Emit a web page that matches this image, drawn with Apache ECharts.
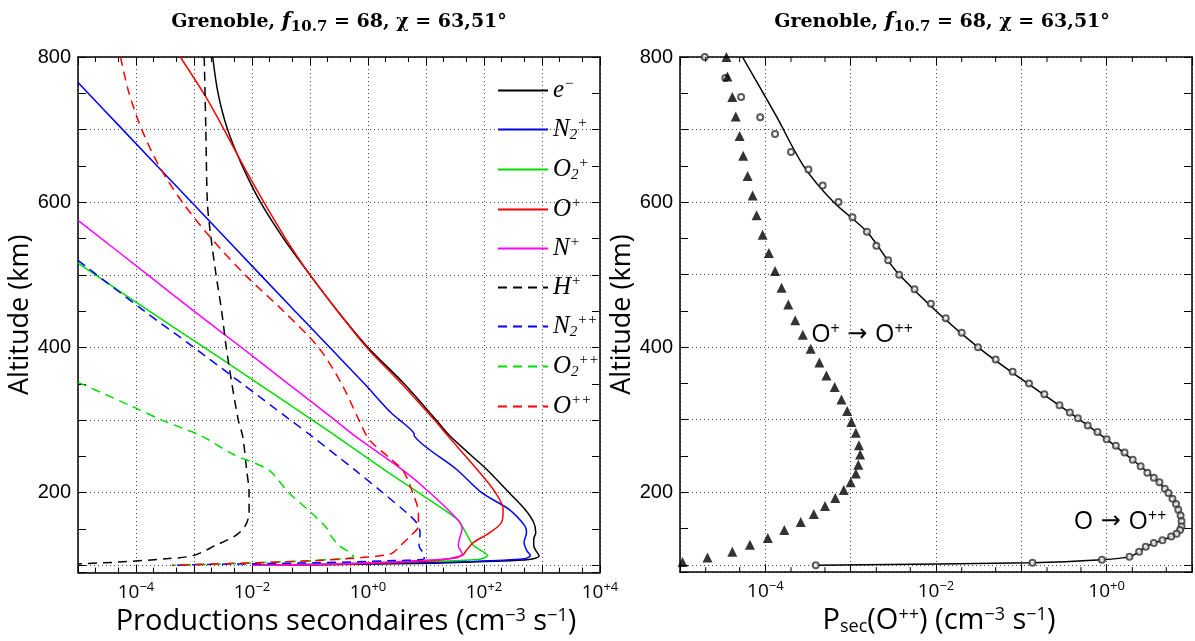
<!DOCTYPE html>
<html><head><meta charset="utf-8">
<script src="https://cdn.jsdelivr.net/npm/echarts@6/dist/echarts.min.js"></script>
<style>html,body{margin:0;padding:0;background:#fff}#c{width:1195px;height:641px}</style>
</head><body><div id="c"></div>
<script>
// ---------- DATA (x value, altitude km) ----------
const eMinus = [[2.1e-3,800],[2.6e-3,750],[3.8e-3,700],[6.8e-3,650],[1.4e-2,600],[3.5e-2,550],[0.10,500],[0.30,450],[1.0,400],[4.2,350],[15,300],[26,278],[57,253],[115,231],[272,200],[510,177],[720,159],[780,145],[720,136],[720,127],[790,120],[890,113],[600,108],[145,105.5],[14,103],[0.6,101.5],[1e-2,100]];
const n2Plus = [[1e-5,765],[5.9e-5,700],[9.1e-4,600],[1.4e-2,500],[0.22,400],[0.87,350],[2.5,310],[4.2,295],[6.2,282],[6.3,278],[35,231],[91,200],[270,177],[510,154],[540,145],[490,131.5],[550,120],[630,113.5],[490,109],[66,105.4],[0.6,102],[1e-2,100]];
const o2Plus = [[1e-5,516],[1.7e-4,450],[1.5e-3,400],[1.3e-2,350],[0.11,300],[0.28,278],[1.95,231],[7.4,200],[35,163],[45,150],[52,140.5],[66,127],[115,113.5],[78,108],[6.3,105],[0.28,102],[1e-2,100]];
const oPlus = [[5.8e-4,800],[1.6e-3,745],[3.3e-3,700],[7.1e-3,650],[1.6e-2,600],[3.8e-2,550],[0.10,500],[0.30,450],[0.95,400],[3.8,350],[14,300],[24,278],[78,231],[158,200],[214,177],[200,159],[126,145],[66,131.5],[49,120],[42,113.5],[14,106.6],[0.6,102],[1e-2,100]];
const nPlus = [[1e-5,575],[1.6e-4,500],[1e-3,450],[6.6e-3,400],[4.2e-2,350],[0.27,300],[0.6,278],[4,231],[11.7,200],[35,163],[42,150],[39,140.5],[36,127],[42,116],[33,110],[3.2,105],[0.1,101],[1e-2,100]];
const hPlus = [[1.5e-3,800],[1.6e-3,700],[1.7e-3,600],[1.9e-3,560],[2.4e-3,500],[3e-3,450],[3.6e-3,400],[4.5e-3,350],[5.8e-3,300],[6.9e-3,278],[8.1e-3,231],[8.9e-3,200],[8.9e-3,172],[7.6e-3,154],[5.1e-3,140.5],[2.3e-3,127],[9.8e-4,113.5],[3.3e-4,109],[5e-5,104.5],[1e-5,102]];
const n2PlusPlus = [[1e-5,520],[1.4e-4,450],[1e-3,400],[6.8e-3,350],[4.6e-2,300],[0.107,278],[0.6,231],[1.8,200],[4.7,172],[6.9,158.6],[7.9,145],[7.6,127],[9.3,113.5],[9.3,109],[2.8,106.5],[0.126,103.6],[1.26e-3,101],[4.2e-4,100]];
const o2PlusPlus = [[1e-5,352],[8e-5,320],[2.8e-4,300],[1.35e-3,278],[4.7e-3,253],[1.95e-2,231],[4.3e-2,200],[0.107,172],[0.2,150],[0.23,140.5],[0.32,127],[0.48,118],[0.56,112],[0.35,109],[2.6e-2,104.5],[1.26e-3,101],[4.2e-4,100]];
const oPlusPlus = [[5.4e-5,800],[7.6e-5,750],[1.26e-4,700],[2.5e-4,650],[6.3e-4,600],[2.0e-3,550],[7.6e-3,500],[3.5e-2,450],[0.14,400],[0.35,350],[0.7,300],[1.05,273],[2.3,248.6],[4,230.6],[5.9,200],[7.4,172],[7.4,154],[5.4,140.5],[3.6,127],[2.5,116],[0.83,111],[0.126,106.5],[2.5e-3,102],[4.2e-4,100]];

// right panel
const oToOppLine = [[5.4e-5,800],[1.35e-4,718],[2.8e-4,650],[6.3e-4,600],[1.55e-3,559],[3.7e-3,500],[3.1e-2,400],[0.46,302],[1.0,273],[2.0,245],[3.6,220],[5.3,199],[6.5,184],[7.3,168],[7.55,160],[7.55,153],[7.2,148],[6.6,143],[5.7,139],[4.5,134],[3.6,130],[2.9,125],[2.4,118],[1.85,111],[0.88,107],[0.135,103],[3.9e-4,99.6]];
const oToOppPoints = [[1.95e-5,800],[3.4e-5,771],[5.2e-5,745],[8.7e-5,717],[1.3e-4,694],[2e-4,669],[3.2e-4,645],[4.7e-4,623],[7.2e-4,600],[1.05e-3,579],[1.55e-3,559],[2.0e-3,540],[2.75e-3,520],[3.7e-3,500],[5.6e-3,480],[8.7e-3,460],[1.3e-2,440],[2.0e-2,420],[3.1e-2,400],[5e-2,383],[7.9e-2,366],[0.123,350],[0.186,335],[0.28,320],[0.37,310],[0.46,302],[0.6,292],[0.78,283],[1.0,273],[1.28,264],[1.62,255],[2.02,245],[2.5,236],[3.0,227],[3.57,220],[4.15,214],[4.8,205],[5.3,199],[5.9,191],[6.5,184],[6.9,176],[7.35,168],[7.55,160],[7.55,153],[7.25,148],[6.6,143],[5.7,139],[4.5,134],[3.57,130],[2.87,125],[2.4,118],[1.85,111],[0.88,107],[0.135,103],[3.9e-4,99.6]];
const opToOppPoints = [[3.5e-5,800],[3.6e-5,773],[4.1e-5,745],[4.5e-5,718],[5.0e-5,691],[5.5e-5,664],[6.2e-5,636],[7.1e-5,609],[7.9e-5,582],[9.3e-5,555],[1.1e-4,530],[1.3e-4,505],[1.55e-4,482],[1.86e-4,459],[2.24e-4,437],[2.75e-4,417],[3.4e-4,398],[4.3e-4,379],[5.2e-4,361],[6.5e-4,345],[7.8e-4,328],[9.1e-4,312],[1.02e-3,297],[1.15e-3,282],[1.25e-3,265],[1.29e-3,252],[1.23e-3,238],[1.15e-3,226],[1.0e-3,214],[8.3e-4,203],[6.6e-4,192],[5.0e-4,181],[3.7e-4,170],[2.6e-4,159],[1.67e-4,148],[1.07e-4,137],[6.6e-5,127.7],[4.1e-5,118],[2.1e-5,110],[1.07e-5,104]];

const leftNames = ['e-','N2+','O2+','O+','N+','H+','N2++','O2++','O++'];
const leftLabels = ['e{sp|−}','N{sb|2}{sp|+}','O{sb|2}{sp|+}','O{sp|+}','N{sp|+}','H{sp|+}','N{sb|2}{sp|++}','O{sb|2}{sp|++}','O{sp|++}'];
const leftColors = ['#000000','#0000ff','#00dd00','#ff0000','#ff00ff','#000000','#0000ff','#00dd00','#ff0000'];
const leftDashed = [false,false,false,false,false,true,true,true,true];
const leftData = [eMinus,n2Plus,o2Plus,oPlus,nPlus,hPlus,n2PlusPlus,o2PlusPlus,oPlusPlus];

const minorTickValsLeft = [2e-5,5e-5,2e-4,5e-4,2e-3,5e-3,2e-2,5e-2,0.2,0.5,2,5,20,50,200,500,2000,5000];
const minorTickValsRight = [2e-5,5e-5,2e-4,5e-4,2e-3,5e-3,2e-2,5e-2,0.2,0.5,2,5];

const yMin = 90, yMax = 800;

// ---------- CHART ----------
const chart = echarts.init(document.getElementById('c'));
const SANS = 'Open Sans';
function expLabel(v){
  const e = Math.round(Math.log10(v));
  if (e % 2 !== 0) return '';
  const s = e < 0 ? '−' + (-e) : '+' + e;
  return '10{s|' + s + '}';
}
const gridLine = {show:true, lineStyle:{color:'#444', type:[1,3], width:1}};
const axisLineS = {show:true, onZero:false, lineStyle:{color:'#000', width:1.5}};
function xBottom(gi, max){
  return {type:'log', gridIndex:gi, position:'bottom', min:1e-5, max:max, splitNumber: gi===0?9:6, logBase:10,
    axisLine:axisLineS, axisTick:{show:true, inside:true, length:8, lineStyle:{color:'#000'}},
    splitLine:gridLine,
    axisLabel:{formatter:expLabel, margin:8, color:'#000', fontFamily:SANS, fontSize:19,
      rich:{s:{fontSize:13, verticalAlign:'top', fontFamily:SANS, color:'#000', padding:[0,0,10,0]}}},
    nameLocation:'middle', nameGap:28};
}
function xTop(gi, max){
  return {type:'log', gridIndex:gi, position:'top', min:1e-5, max:max, splitNumber: gi===0?9:6, logBase:10,
    axisLine:axisLineS, axisTick:{show:true, inside:true, length:8, lineStyle:{color:'#000'}},
    splitLine:{show:false}, axisLabel:{show:false}};
}
function yLeft(gi, gap){
  return {type:'value', gridIndex:gi, position:'left', min:yMin, max:yMax, splitNumber:7,
    axisLine:axisLineS, axisTick:{show:true, inside:true, length:8, lineStyle:{color:'#000'}},
    minorTick:{show:true, splitNumber:2, length:8, lineStyle:{color:'#000'}},
    splitLine:gridLine,
    axisLabel:{formatter:v => (v % 200 === 0 ? String(v) : ''), color:'#000', fontFamily:'Liberation Sans', fontSize:20, margin:7},
    name:'Altitude (km)', nameLocation:'middle', nameRotate:90, nameGap:gap,
    nameTextStyle:{fontFamily:SANS, fontSize:27, color:'#000'}};
}
function yRight(gi){
  return {type:'value', gridIndex:gi, position:'right', min:yMin, max:yMax, splitNumber:7,
    axisLine:axisLineS, axisTick:{show:true, inside:true, length:8, lineStyle:{color:'#000'}},
    minorTick:{show:true, splitNumber:2, length:8, lineStyle:{color:'#000'}},
    splitLine:{show:false}, axisLabel:{show:false}};
}

const xa0 = xBottom(0, 1e4);
xa0.name = 'Productions secondaires (cm{s|−3} s{s|−1})';
xa0.nameTextStyle = {fontFamily:SANS, fontSize:29, color:'#000', padding:[0,0,0,14],
  rich:{s:{fontSize:18, verticalAlign:'top', fontFamily:SANS, color:'#000', padding:[0,0,12,0]}}};
const xa2 = xBottom(1, 10);
xa2.name = 'P{b|sec}(O{s|++}) (cm{s|−3} s{s|−1})';
xa2.nameTextStyle = {fontFamily:SANS, fontSize:29, color:'#000', padding:[0,0,0,6],
  rich:{s:{fontSize:18, verticalAlign:'top', fontFamily:SANS, color:'#000', padding:[0,0,12,0]},
        b:{fontSize:18, verticalAlign:'bottom', fontFamily:SANS, color:'#000', padding:[12,0,0,0]}}};

const series = [];
leftNames.forEach((n, i) => {
  series.push({name:n, type:'line', xAxisIndex:0, yAxisIndex:0, data:leftData[i], symbol:'none',
    smooth:0.3, clip:true,
    lineStyle:{color:leftColors[i], width:1.5, type: leftDashed[i] ? [9,6] : 'solid'},
    itemStyle:{color:leftColors[i]}, z:3});
});
function tickSeries(vals, xi, yi){
  return {type:'custom', xAxisIndex:xi, yAxisIndex:yi, silent:true, z:5,
    data: vals.map(v => [v, yMin]),
    renderItem:(p, api) => {
      const v = api.value(0);
      const b = api.coord([v, yMin]), t = api.coord([v, yMax]);
      return {type:'group', children:[
        {type:'line', shape:{x1:b[0], y1:b[1], x2:b[0], y2:b[1]-5}, style:{stroke:'#000', lineWidth:1}},
        {type:'line', shape:{x1:t[0], y1:t[1], x2:t[0], y2:t[1]+5}, style:{stroke:'#000', lineWidth:1}}
      ]};
    }};
}
series.push(tickSeries(minorTickValsLeft, 0, 0));
series.push(tickSeries(minorTickValsRight, 2, 2));
series.push({name:'O → O++ line', type:'line', xAxisIndex:2, yAxisIndex:2, data:oToOppLine, symbol:'none', smooth:0.3,
  lineStyle:{color:'#000', width:1.5}, z:3});
series.push({name:'O → O++', type:'scatter', xAxisIndex:2, yAxisIndex:2, data:oToOppPoints, symbol:'emptyCircle', symbolSize:6,
  itemStyle:{color:'#333', borderColor:'#333', borderWidth:0.8}, z:4});
series.push({name:'O+ → O++', type:'scatter', xAxisIndex:2, yAxisIndex:2, data:opToOppPoints, symbol:'triangle', symbolSize:10,
  itemStyle:{color:'#000'}, z:4});

const SERIF_T = 'DejaVu Serif';
const titleRich = {
  b:{fontFamily:SERIF_T, fontWeight:'bold', fontSize:19, color:'#000'},
  fi:{fontFamily:SERIF_T, fontWeight:'bold', fontStyle:'italic', fontSize:21, color:'#000'},
  sb:{fontFamily:SERIF_T, fontWeight:'bold', fontSize:15, color:'#000', verticalAlign:'bottom', padding:[10,0,0,0]}
};
const titleText = '{b|Grenoble, }{fi|f}{sb|10.7}{b| = 68, χ = 63,51°}';
const annRich = {
  n:{fontFamily:SANS, fontSize:25, color:'#000'},
  a:{fontFamily:'DejaVu Sans', fontSize:24, color:'#000'},
  s:{fontFamily:SANS, fontSize:16, color:'#000', verticalAlign:'top', padding:[0,0,12,0]}
};

const option = {
  backgroundColor:'#fff',
  animation:false,
  grid:[
    {left:78, right:595, top:57, bottom:63, containLabel:false},
    {left:680, right:-9, top:57, bottom:63, containLabel:false}
  ],
  xAxis:[xa0, xTop(0, 1e4), xa2, xTop(1, 10)],
  yAxis:[yLeft(0, 40), yRight(0), yLeft(1, 22), yRight(1)],
  legend:{data:leftNames, orient:'vertical', left:492, top:72, itemWidth:50, itemHeight:14, itemGap:13,
    itemStyle:{opacity:0},
    formatter: n => leftLabels[leftNames.indexOf(n)],
    textStyle:{fontFamily:'Liberation Serif', fontStyle:'italic', fontSize:25, color:'#000',
      rich:{sb:{fontFamily:'Liberation Serif', fontSize:15, color:'#000', verticalAlign:'bottom', padding:[12,0,0,0]},
            sp:{fontFamily:'Liberation Serif', fontSize:15, color:'#000', verticalAlign:'top', padding:[0,0,12,0]}}},
    selectedMode:false},
  graphic:[
    {type:'text', x:339, y:22, style:{text:titleText, align:'center', verticalAlign:'middle', rich:titleRich}},
    {type:'text', x:942, y:22, style:{text:titleText, align:'center', verticalAlign:'middle', rich:titleRich}},
    {type:'text', x:862, y:335, style:{text:'{n|O}{s|+}{a| → }{n|O}{s|++}', align:'center', verticalAlign:'middle', rich:annRich}},
    {type:'text', x:1120, y:522, style:{text:'{n|O}{a| → }{n|O}{s|++}', align:'center', verticalAlign:'middle', rich:annRich, backgroundColor:'#fff'}}
  ],
  series:series
};
chart.setOption(option);
</script></body></html>
